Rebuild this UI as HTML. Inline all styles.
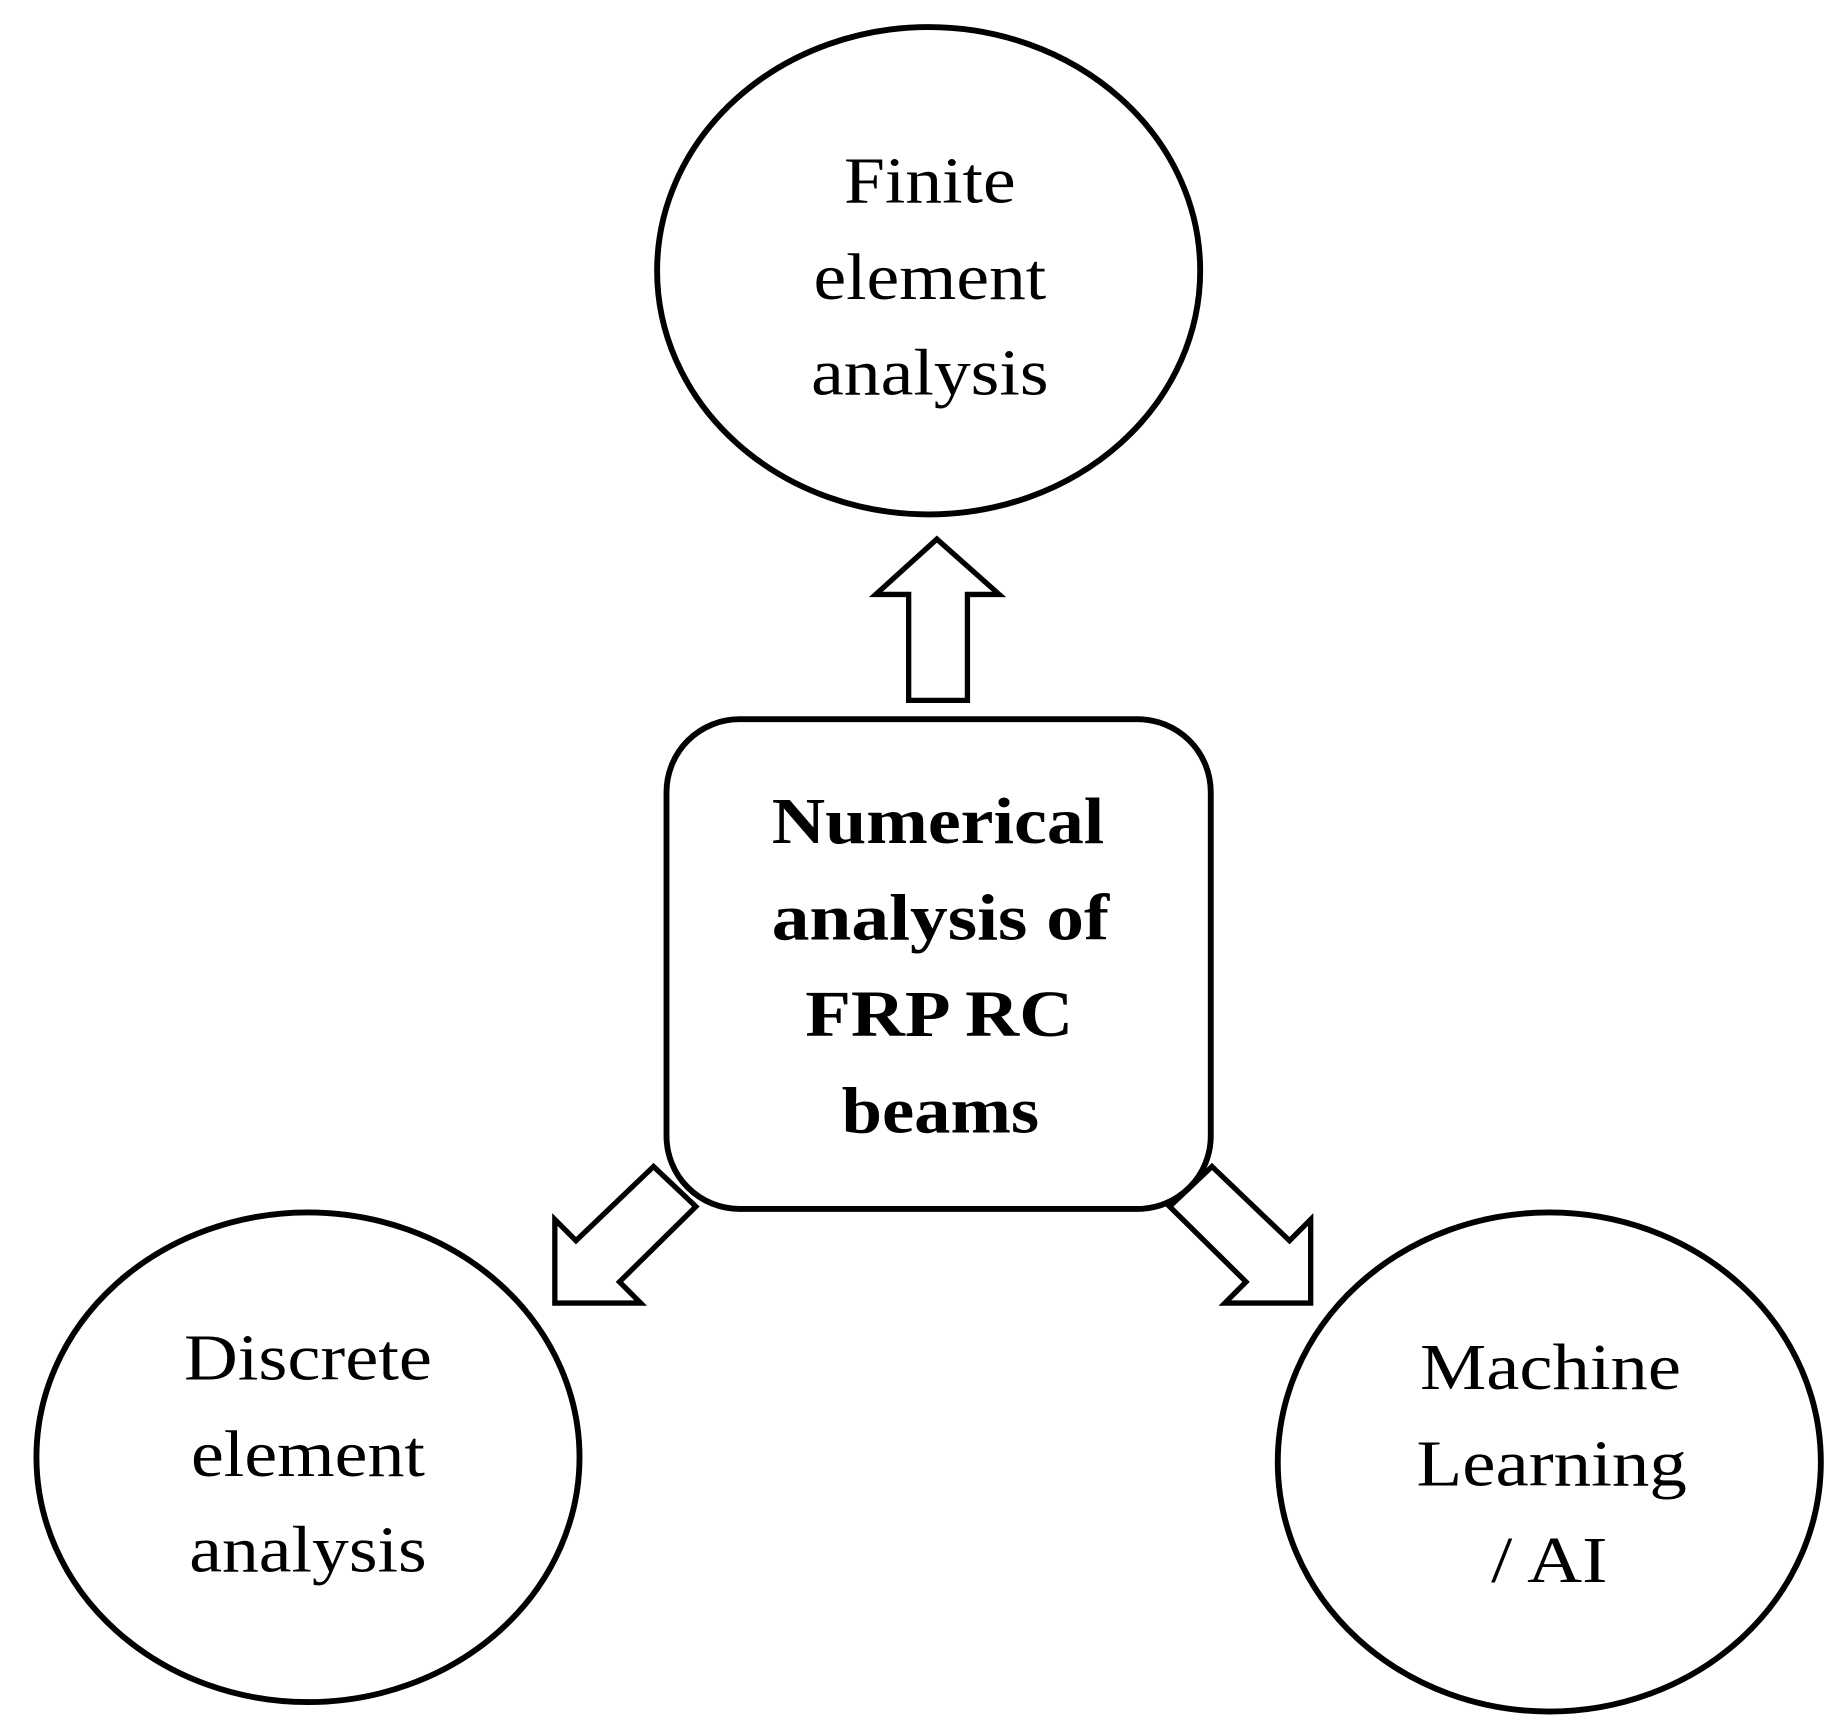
<!DOCTYPE html>
<html><head><style>html,body{margin:0;padding:0;background:#fff}svg{display:block}</style></head>
<body>
<svg width="1842" height="1728" viewBox="0 0 1567 1468" preserveAspectRatio="none" xmlns="http://www.w3.org/2000/svg">
<g fill="none" stroke="#000" stroke-width="5">
<ellipse cx="790" cy="230" rx="231" ry="207"/>
<ellipse cx="262" cy="1238" rx="231" ry="208"/>
<ellipse cx="1318" cy="1242" rx="231" ry="212"/>
<rect x="567" y="611" width="463" height="416" rx="62" fill="#fff"/>
<polygon points="773,595 823,595 823,505 850,505 797,458 745,505 773,505" stroke-width="4.5"/>
<polygon points="472,1107 545,1107 527,1089 592,1025 556,991 490,1054 472,1036" stroke-width="4.5"/>
<polygon points="1115,1107 1042,1107 1060,1089 995,1025 1031,991 1097,1054 1115,1036" stroke-width="4.5"/>
</g>
<g font-family="Liberation Serif, serif" font-size="56" text-anchor="middle" fill="#000">
<text x="791" y="172" textLength="146" lengthAdjust="spacingAndGlyphs">Finite</text>
<text x="791" y="254" textLength="198" lengthAdjust="spacingAndGlyphs">element</text>
<text x="791" y="335" textLength="202" lengthAdjust="spacingAndGlyphs">analysis</text>
<text x="262" y="1172" textLength="211" lengthAdjust="spacingAndGlyphs">Discrete</text>
<text x="262" y="1254" textLength="199" lengthAdjust="spacingAndGlyphs">element</text>
<text x="262" y="1335" textLength="202" lengthAdjust="spacingAndGlyphs">analysis</text>
<text x="1319" y="1180" textLength="222" lengthAdjust="spacingAndGlyphs">Machine</text>
<text x="1320" y="1262" textLength="230" lengthAdjust="spacingAndGlyphs">Learning</text>
<text x="1318" y="1344" textLength="99" lengthAdjust="spacingAndGlyphs">/ AI</text>
</g>
<g font-family="Liberation Serif, serif" font-size="56" font-weight="bold" text-anchor="middle" fill="#000">
<text x="798" y="716" textLength="283" lengthAdjust="spacingAndGlyphs">Numerical</text>
<text x="800" y="798" textLength="287" lengthAdjust="spacingAndGlyphs">analysis of</text>
<text x="799" y="880" textLength="228" lengthAdjust="spacingAndGlyphs">FRP RC</text>
<text x="800" y="962" textLength="168" lengthAdjust="spacingAndGlyphs">beams</text>
</g>
</svg>
</body></html>
